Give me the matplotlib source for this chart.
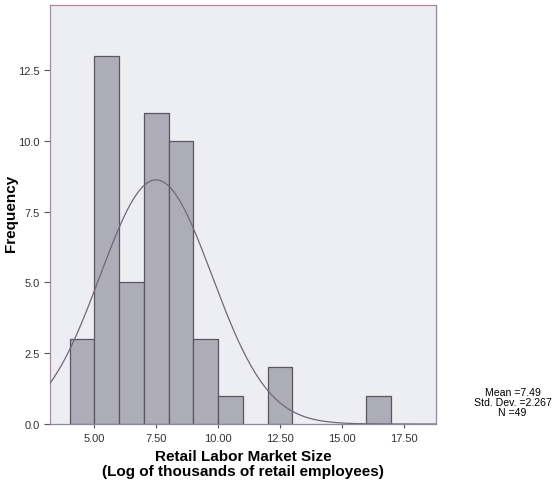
import numpy as np
import matplotlib
matplotlib.use("Agg")
import matplotlib.pyplot as plt

plt.rcParams['font.family'] = ['Liberation Sans', 'DejaVu Sans']

# Histogram bins (lower edge, width 1) and their counts
bin_edges_left = [4, 5, 6, 7, 8, 9, 10, 12, 16]
bin_counts = [3, 13, 5, 11, 10, 3, 1, 2, 1]
bin_width = 1.0

# Summary statistics for the fitted normal curve
mean = 7.49
std_dev = 2.267
n_obs = 49

x_ticks = [5.0, 7.5, 10.0, 12.5, 15.0, 17.5]
x_tick_labels = ["5.00", "7.50", "10.00", "12.50", "15.00", "17.50"]
y_ticks = [0.0, 2.5, 5.0, 7.5, 10.0, 12.5]
y_tick_labels = ["0.0", "2.5", "5.0", "7.5", "10.0", "12.5"]

fig = plt.figure(figsize=(5.56, 4.85), dpi=100)
ax = fig.add_axes([0.0899, 0.1237, 0.6942, 0.8639])
ax.set_facecolor('#eceef3')

ax.bar(bin_edges_left, bin_counts, width=bin_width, align='edge',
       color='#adadb7', edgecolor='#5a5560', linewidth=0.9, zorder=2)

xs = np.linspace(3.2, 18.8, 400)
pdf = np.exp(-0.5 * ((xs - mean) / std_dev) ** 2) / (std_dev * np.sqrt(2 * np.pi))
ax.plot(xs, pdf * n_obs * bin_width, color='#74667a', linewidth=0.9, zorder=3)

ax.set_xlim(3.2, 18.81)
ax.set_ylim(0, 14.8)
ax.set_xticks(x_ticks)
ax.set_xticklabels(x_tick_labels)
ax.set_yticks(y_ticks)
ax.set_yticklabels(y_tick_labels)
ax.tick_params(axis='both', labelsize=8, colors='#555555', labelcolor='#333333',
               length=4, width=0.8)
ax.tick_params(axis='x', length=3)

for side in ['left', 'top']:
    ax.spines[side].set_color('#b08a98')
for side in ['right', 'bottom']:
    ax.spines[side].set_color('#8a8a9a')
for s in ax.spines.values():
    s.set_linewidth(0.9)

ax.set_ylabel("Frequency", fontsize=11, fontweight='bold')
ax.yaxis.set_label_coords(-0.082, 0.506)
ax.set_xlabel("Retail Labor Market Size\n(Log of thousands of retail employees)",
              fontsize=11, fontweight='bold', labelpad=4, linespacing=1.15)

fig.text(0.922, 0.169, f"Mean ={mean}\nStd. Dev. ={std_dev}\nN ={n_obs}",
         ha='center', va='center', fontsize=7.6, linespacing=0.95)

fig.savefig("out.png", dpi=100)
